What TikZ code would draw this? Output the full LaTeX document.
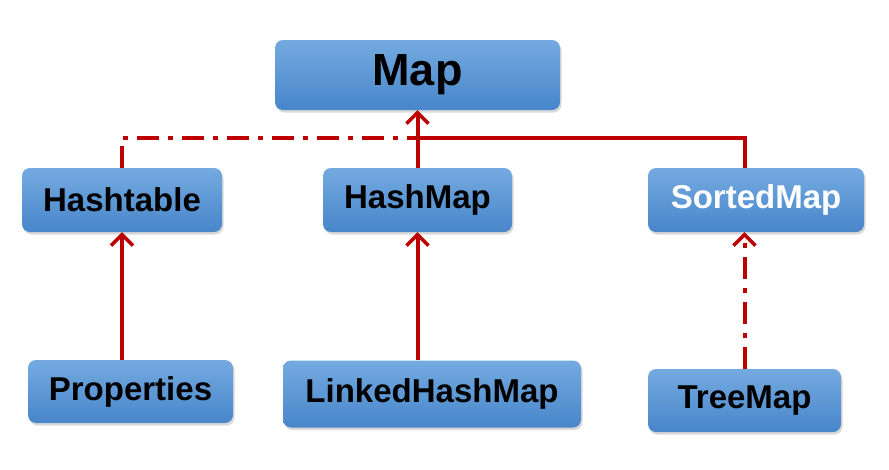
\documentclass[tikz,border=0pt]{standalone}
\usepackage{fontspec}
\setmainfont{Liberation Sans}
\usetikzlibrary{arrows.meta,shadows}
\definecolor{boxtop}{RGB}{116,170,224}
\definecolor{boxbot}{RGB}{72,134,202}
\definecolor{linkred}{RGB}{188,0,0}
\tikzset{
  umlbox/.style={rounded corners=8pt, top color=boxtop, bottom color=boxbot, draw=none,
    inner sep=0pt, font=\bfseries\fontsize{33}{33}\selectfont,
    drop shadow={opacity=0.3, shadow xshift=1.5pt, shadow yshift=-2.5pt}},
  link/.style={draw=linkred, line width=4pt},
  dashdot/.style={link, dash pattern=on 22pt off 9pt on 5pt off 9pt},
  tip/.style={-{Straight Barb[length=11pt,width=22pt,line width=3.5pt]}}
}
\begin{document}
\begin{tikzpicture}[x=1pt,y=-1pt]
\useasboundingbox (0,0) rectangle (889,469);
\node[umlbox, minimum width=285pt, minimum height=70pt, font=\bfseries\fontsize{45}{45}\selectfont] (Map) at (417.5,75) {Map};
\node[umlbox, minimum width=200pt, minimum height=64pt] (Hashtable) at (122,200) {Hashtable};
\node[umlbox, minimum width=189pt, minimum height=64pt] (HashMap) at (417.5,200) {HashMap};
\node[umlbox, minimum width=216pt, minimum height=64pt, text=white] (SortedMap) at (756,200) {SortedMap};
\node[umlbox, minimum width=205pt, minimum height=63pt] (Properties) at (130.5,391.5) {Properties};
\node[umlbox, minimum width=298pt, minimum height=67pt] (LinkedHashMap) at (432,394) {LinkedHashMap};
\node[umlbox, minimum width=193pt, minimum height=63pt] (TreeMap) at (744.5,400.5) {TreeMap};
\coordinate (J) at (417.5,138);
\coordinate (SMtop) at (745,168);
\draw[dashdot] (Hashtable.north) |- (J);
\draw[link] (J) -| (SMtop);
\draw[link, tip] (HashMap.north) -- (Map.south);
\draw[link, tip] (Properties.north -| Hashtable.south) -- (Hashtable.south);
\draw[link, tip] (LinkedHashMap.north -| HashMap.south) -- (HashMap.south);
\draw[dashdot, tip] (TreeMap.north) -- (TreeMap.north |- SortedMap.south);
\end{tikzpicture}
\end{document}
